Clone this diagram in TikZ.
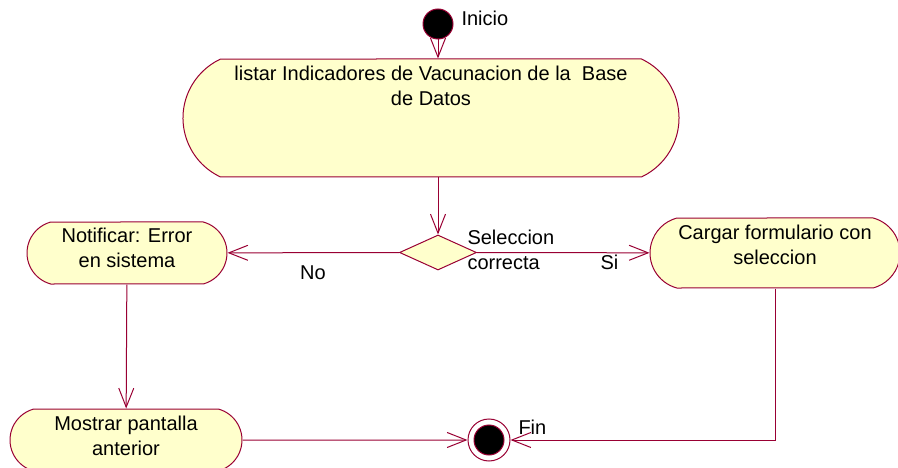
\documentclass[tikz,border=0pt]{standalone}
\usepackage{fontspec}
\setmainfont{Liberation Sans}
\usetikzlibrary{shapes.geometric,shapes.misc,arrows.meta,positioning}
\definecolor{roseline}{RGB}{153,0,51}
\definecolor{rosefill}{RGB}{255,255,204}

\begin{document}
\begin{tikzpicture}[
    x=1pt, y=-1pt,
    >={Straight Barb[length=19pt,width=15pt]},
    font=\fontsize{20}{25}\selectfont,
    line width=1pt,
    act/.style={draw=roseline, fill=rosefill, rounded rectangle, rounded rectangle arc length=150, align=center, inner sep=0pt, text height=46pt},
    cond/.style={diamond, draw=roseline, fill=rosefill, inner sep=0pt},
    lbl/.style={inner sep=0pt, align=left},
    flow/.style={->, draw=roseline}
]
\useasboundingbox (0,0) rectangle (898,468);
\clip (0,0) rectangle (898,468);

\node[circle, draw=roseline, fill=black, minimum size=30pt, inner sep=0pt] (inicio) at (438,24) {};
\node[lbl, anchor=west] (inicioLbl) at (461,18) {Inicio};

\node[act, rounded rectangle arc length=130, minimum width=496pt, text height=47pt, text depth=71pt] (listar) at (431,118)
    {listar Indicadores de Vacunacion de la\ \ Base\\de Datos};

\node[cond, minimum width=77pt, minimum height=35pt] (dec) at (438,252.5) {};
\node[lbl, anchor=west] (decLbl) at (467,249.5) {Seleccion\\correcta};

\node[act, minimum width=200pt, text depth=16pt] (notif) at (127,253) {Notificar: Error\\en sistema};
\node[act, minimum width=250pt, text height=47pt, text depth=23pt] (cargar) at (775,253) {Cargar formulario con\\seleccion};
\node[act, minimum width=232pt, text depth=16pt] (mostrar) at (126,440) {Mostrar pantalla\\anterior};

\node[circle, draw=roseline, fill=white, minimum size=42pt, inner sep=0pt,
      path picture={\filldraw[fill=black, draw=roseline] (path picture bounding box.center) circle (15pt);}] (fin) at (489,440) {};
\node[lbl, anchor=west] (finLbl) at (518,427) {Fin};

\node[lbl] (noLbl) at (313,273) {No};
\node[lbl, anchor=west] (siLbl) at (600,262) {Si};

\draw[flow] (inicio) -- (inicio |- listar.north);
\draw[flow] (dec |- listar.south) -- (dec);
\draw[flow] (dec) -- (cargar);
\draw[flow] (dec) -- (notif);
\draw[flow] (notif) -- (mostrar);
\draw[flow] (mostrar) -- (fin);
\draw[flow] (cargar.south) |- (fin.east);
\end{tikzpicture}
\end{document}
